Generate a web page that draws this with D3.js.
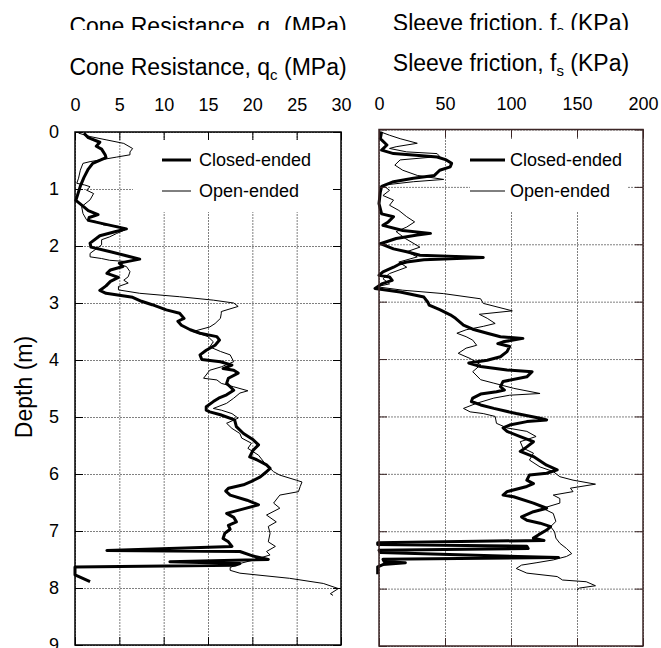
<!DOCTYPE html>
<html lang="en">
<head>
  <meta charset="UTF-8">
  <title>CPT profiles</title>
  <style>
    body { margin: 0; background: #fff; }
    text { font-family: "Liberation Sans", Arial, sans-serif; fill: #000; }
  </style>
</head>
<body>
  <script src="https://d3js.org/d3.v7.min.js"></script>
  <script>
    // depth (m), value
    const qcClosed = [[0.02,1.0],[0.10,1.5],[0.18,2.8],[0.25,2.4],[0.30,3.0],[0.40,3.4],[0.45,3.5],[0.55,2.0],[0.65,1.5],[0.80,1.0],[0.95,0.6],[1.05,0.4],[1.20,0.1],[1.30,0.9],[1.38,1.5],[1.45,2.6],[1.50,1.6],[1.55,1.5],[1.62,3.5],[1.70,5.8],[1.75,4.5],[1.82,2.8],[1.95,1.7],[2.02,1.8],[2.10,4.0],[2.18,6.0],[2.23,7.3],[2.30,5.0],[2.36,5.4],[2.42,4.0],[2.48,3.6],[2.55,4.9],[2.62,4.0],[2.70,3.5],[2.78,2.8],[2.83,3.5],[2.90,6.5],[2.97,7.5],[3.03,8.7],[3.12,10.3],[3.18,11.8],[3.27,12.3],[3.32,11.6],[3.39,12.0],[3.47,13.0],[3.53,14.1],[3.59,16.0],[3.65,16.3],[3.74,15.8],[3.83,14.8],[3.91,14.1],[3.99,14.3],[4.03,16.4],[4.09,17.7],[4.15,16.7],[4.18,17.9],[4.23,18.4],[4.32,17.3],[4.41,17.1],[4.47,17.5],[4.53,17.9],[4.61,17.1],[4.67,16.2],[4.73,15.6],[4.82,14.8],[4.88,14.8],[4.91,15.2],[4.96,16.4],[5.05,18.0],[5.17,18.2],[5.29,19.0],[5.40,20.1],[5.49,20.7],[5.58,20.1],[5.70,19.7],[5.75,20.5],[5.84,21.6],[5.90,22.0],[5.96,21.6],[6.05,20.9],[6.13,19.9],[6.19,19.0],[6.25,17.3],[6.30,17.0],[6.37,17.5],[6.46,19.4],[6.54,20.7],[6.63,18.6],[6.69,17.1],[6.76,17.9],[6.84,18.2],[6.90,17.3],[6.97,17.5],[7.04,16.9],[7.13,16.7],[7.19,17.3],[7.27,17.7],[7.34,3.6],[7.36,18.6],[7.44,20.1],[7.50,21.8],[7.54,10.7],[7.57,18.6],[7.60,18.0],[7.63,0],[7.77,0],[7.89,1.7]];
    const qcOpen = [[0.02,0.4],[0.08,1.7],[0.14,3.6],[0.20,5.5],[0.29,6.5],[0.35,6.2],[0.40,6.2],[0.44,4.7],[0.48,3.2],[0.52,1.7],[0.55,0.9],[0.67,0.6],[0.81,0.4],[0.90,0.2],[0.93,1.1],[0.96,1.7],[1.02,1.3],[1.08,2.1],[1.19,1.7],[1.31,0.75],[1.43,0.9],[1.54,1.3],[1.57,2.4],[1.63,3.2],[1.66,5.1],[1.72,5.6],[1.78,4.7],[1.84,3.9],[1.89,3.0],[1.98,3.0],[2.13,1.7],[2.19,1.7],[2.22,3.0],[2.25,3.9],[2.27,5.5],[2.33,5.1],[2.36,5.8],[2.45,6.2],[2.54,6.0],[2.60,5.5],[2.65,6.0],[2.71,4.9],[2.77,4.9],[2.83,7.3],[2.89,11.8],[2.95,15.6],[3.00,17.9],[3.06,18.4],[3.15,16.5],[3.18,16.5],[3.27,16.4],[3.36,15.8],[3.42,15.2],[3.50,13.3],[3.59,15.0],[3.68,15.6],[3.77,15.2],[3.85,16.4],[3.91,17.5],[4.03,17.9],[4.12,16.5],[4.18,15.2],[4.32,14.5],[4.35,16.0],[4.41,16.5],[4.47,17.9],[4.54,19.5],[4.58,18.6],[4.67,17.9],[4.76,17.1],[4.85,15.6],[4.88,16.5],[4.94,17.7],[5.02,18.4],[5.11,17.1],[5.20,17.7],[5.29,18.6],[5.37,18.8],[5.46,19.9],[5.55,19.5],[5.67,20.7],[5.81,21.4],[5.96,22.4],[6.02,23.1],[6.11,25.0],[6.14,25.6],[6.22,25.4],[6.31,25.2],[6.37,23.1],[6.51,22.4],[6.60,23.1],[6.72,21.6],[6.84,22.7],[6.92,21.8],[7.04,22.0],[7.19,21.8],[7.27,22.6],[7.36,21.6],[7.42,22.0],[7.51,20.1],[7.57,18.6],[7.64,17.5],[7.69,17.5],[7.74,18.6],[7.83,24.2],[7.92,28.0],[8.01,29.7],[8.10,28.8],[8.13,29.1]];
    const fsClosed = [[0.04,2],[0.16,1],[0.27,6],[0.36,2],[0.42,11],[0.45,28],[0.48,44],[0.53,51],[0.59,55],[0.65,54],[0.71,46],[0.80,42],[0.85,26],[0.91,11],[0.99,2],[1.09,1],[1.29,0],[1.47,2],[1.52,11],[1.61,7],[1.67,3],[1.76,18],[1.81,39],[1.84,29],[1.90,13],[1.99,1],[2.08,11],[2.13,21],[2.19,31],[2.23,79],[2.27,34],[2.31,21],[2.34,16],[2.40,11],[2.48,3],[2.54,0],[2.57,8],[2.63,10],[2.69,2],[2.77,-3],[2.83,16],[2.92,34],[3.01,37],[3.06,38],[3.14,46],[3.23,54],[3.29,58],[3.41,64],[3.48,71],[3.55,82],[3.61,92],[3.64,109],[3.70,94],[3.73,90],[3.78,99],[3.87,97],[3.96,92],[4.02,82],[4.07,68],[4.13,77],[4.19,97],[4.22,116],[4.31,112],[4.39,94],[4.48,92],[4.54,95],[4.57,89],[4.61,77],[4.68,71],[4.74,70],[4.80,77],[4.86,87],[4.95,104],[5.03,122],[5.06,127],[5.09,112],[5.15,99],[5.20,94],[5.26,97],[5.35,107],[5.44,117],[5.53,112],[5.61,107],[5.70,117],[5.85,127],[5.93,135],[5.99,127],[6.02,114],[6.11,112],[6.17,117],[6.22,112],[6.31,97],[6.37,94],[6.40,102],[6.51,117],[6.60,127],[6.66,117],[6.75,108],[6.81,112],[6.86,122],[6.92,130],[6.98,127],[7.06,121],[7.12,117],[7.16,125],[7.20,-1],[7.23,-1],[7.26,112],[7.30,113],[7.33,0],[7.37,1],[7.46,136],[7.49,3],[7.53,4],[7.55,20],[7.58,3],[7.62,-1],[7.75,-1]];
    const fsOpen = [[0.04,1],[0.10,8],[0.16,16],[0.24,29],[0.30,13],[0.33,8],[0.39,21],[0.42,44],[0.47,46],[0.53,16],[0.62,12],[0.71,18],[0.80,29],[0.87,49],[0.91,26],[0.97,3],[1.06,8],[1.15,3],[1.23,11],[1.32,8],[1.41,15],[1.52,21],[1.61,27],[1.70,21],[1.78,13],[1.90,20],[2.05,31],[2.13,21],[2.22,29],[2.31,15],[2.40,21],[2.51,8],[2.60,3],[2.69,8],[2.74,-2],[2.80,18],[2.86,49],[2.95,77],[3.03,79],[3.16,101],[3.22,76],[3.29,82],[3.38,88],[3.43,79],[3.49,66],[3.55,59],[3.61,66],[3.67,71],[3.76,74],[3.81,66],[3.90,60],[3.99,69],[4.10,77],[4.22,71],[4.36,77],[4.42,87],[4.51,102],[4.60,122],[4.63,99],[4.68,87],[4.77,74],[4.86,64],[4.92,69],[4.95,79],[5.00,88],[5.12,89],[5.20,97],[5.26,112],[5.35,119],[5.44,107],[5.55,109],[5.64,117],[5.76,114],[5.88,122],[5.96,132],[6.05,137],[6.11,147],[6.18,164],[6.25,145],[6.31,147],[6.37,132],[6.43,137],[6.51,137],[6.60,124],[6.69,132],[6.83,134],[6.92,130],[7.01,133],[7.12,134],[7.21,137],[7.30,142],[7.39,146],[7.44,142],[7.50,132],[7.55,119],[7.59,108],[7.65,104],[7.73,112],[7.79,135],[7.85,139],[7.88,157],[7.95,164],[7.99,152],[8.02,150]];

    const depthTicks = [0, 1, 2, 3, 4, 5, 6, 7, 8, 9];
    const qcTicks = [0, 5, 10, 15, 20, 25, 30];
    const fsTicks = [0, 50, 100, 150, 200];
    const seriesNames = ['Closed-ended', 'Open-ended'];

    const svg = d3.select('body').append('svg')
      .attr('width', 661)
      .attr('height', 648);

    svg.append('defs').append('clipPath').attr('id', 'topcut')
      .append('rect').attr('x', 0).attr('y', 0).attr('width', 661).attr('height', 30);

    function panel(cfg) {
      const x = d3.scaleLinear().domain(cfg.xDomain).range(cfg.xRange);
      const y = d3.scaleLinear().domain([0, 9]).range(cfg.yRange);
      const [x0, x1] = cfg.xRange, [y0, y1] = cfg.yRange;
      const g = svg.append('g');

      // dotted grid
      const grid = g.append('g').attr('class', 'grid');
      grid.append('g').attr('transform', `translate(0,${y1})`)
        .call(d3.axisBottom(x).tickValues(cfg.xTicks).tickSize(-(y1 - y0)).tickFormat(''));
      grid.append('g').attr('transform', `translate(${x0},0)`)
        .call(d3.axisLeft(y).tickValues(depthTicks).tickSize(-(x1 - x0)).tickFormat(''));
      grid.selectAll('.domain').remove();
      grid.selectAll('line').attr('stroke', '#808080').attr('stroke-dasharray', '2,1');

      // legend background hides the grid
      g.append('rect')
        .attr('x', cfg.legBox[0]).attr('y', cfg.legBox[1])
        .attr('width', cfg.legBox[2]).attr('height', cfg.legBox[3])
        .attr('fill', '#fff');

      const line = d3.line().x(d => x(d[1])).y(d => y(d[0]));
      g.append('path').datum(cfg.open).attr('d', line)
        .attr('fill', 'none').attr('stroke', '#000').attr('stroke-width', 1);
      g.append('path').datum(cfg.closed).attr('d', line)
        .attr('fill', 'none').attr('stroke', '#000').attr('stroke-width', 3)
        .attr('stroke-linejoin', 'round');

      // inner tick marks on all four sides
      const top = g.append('g').attr('transform', `translate(0,${y0})`)
        .call(d3.axisTop(x).tickValues(cfg.xTicks).tickSize(-8).tickSizeOuter(0).tickPadding(cfg.labPad));
      top.selectAll('text').style('font-size', '18px').style('font-family', '"Liberation Sans", Arial, sans-serif');
      g.append('g').attr('transform', `translate(0,${y1})`)
        .call(d3.axisBottom(x).tickValues(cfg.xTicks).tickSize(-8).tickSizeOuter(0).tickFormat(''));
      const left = g.append('g').attr('transform', `translate(${x0},0)`)
        .call(d3.axisLeft(y).tickValues(depthTicks).tickSize(-8).tickSizeOuter(0).tickPadding(16)
          .tickFormat(cfg.depthLabels ? d3.format('d') : ''));
      left.selectAll('text').style('font-size', '18px').style('font-family', '"Liberation Sans", Arial, sans-serif');
      g.append('g').attr('transform', `translate(${x1},0)`)
        .call(d3.axisRight(y).tickValues(depthTicks).tickSize(-8).tickSizeOuter(0).tickFormat(''));
      g.selectAll('.domain').remove();
      g.selectAll('.tick line').filter(function () { return !this.closest('.grid'); })
        .attr('stroke', cfg.frame);

      g.append('rect').attr('x', x0).attr('y', y0)
        .attr('width', x1 - x0).attr('height', y1 - y0)
        .attr('fill', 'none').attr('stroke', cfg.frame).attr('stroke-width', 1.5);

      // legend
      const leg = g.append('g');
      seriesNames.forEach((name, i) => {
        const ly = cfg.legY[i];
        leg.append('line').attr('x1', cfg.legX[0]).attr('x2', cfg.legX[1])
          .attr('y1', ly).attr('y2', ly)
          .attr('stroke', '#000').attr('stroke-width', i === 0 ? 3 : 1);
        leg.append('text').attr('x', cfg.legX[2]).attr('y', ly).attr('dy', '0.35em')
          .style('font-size', '18px').text(name);
      });

      // titles (upper copy is cut off)
      cfg.titles.forEach((t, i) => {
        const tx = svg.append('text')
          .attr('x', (x0 + x1) / 2).attr('y', t.y)
          .attr('text-anchor', 'middle')
          .style('font-size', '23px');
        if (i === 0) tx.attr('clip-path', 'url(#topcut)');
        tx.append('tspan').text(t.a);
        tx.append('tspan').attr('dy', 5).style('font-size', '15px').text(t.sub);
        tx.append('tspan').attr('dy', -5).text(t.b);
      });
    }

    panel({
      xDomain: [0, 30], xRange: [75, 341], yRange: [132, 645],
      xTicks: qcTicks, labPad: 21, depthLabels: true, frame: '#000',
      closed: qcClosed, open: qcOpen,
      legBox: [133, 140, 202, 72], legX: [162, 191, 199], legY: [160, 191],
      titles: [
        { y: 34, a: 'Cone Resistance,  q', sub: 'c', b: ' (MPa)' },
        { y: 75, a: 'Cone Resistance, q', sub: 'c', b: ' (MPa)' }
      ]
    });

    panel({
      xDomain: [0, 200], xRange: [379, 643], yRange: [129.5, 646],
      xTicks: fsTicks, labPad: 20, depthLabels: false, frame: '#3c2626',
      closed: fsClosed, open: fsOpen,
      legBox: [470, 140, 158, 72], legX: [470, 505, 510], legY: [160, 191],
      titles: [
        { y: 31, a: 'Sleeve friction. f', sub: 's', b: ' (KPa)' },
        { y: 71, a: 'Sleeve friction, f', sub: 's', b: ' (KPa)' }
      ]
    });

    svg.append('text')
      .attr('transform', 'translate(32,387) rotate(-90)')
      .attr('text-anchor', 'middle')
      .style('font-size', '23px')
      .text('Depth (m)');
  </script>
</body>
</html>
